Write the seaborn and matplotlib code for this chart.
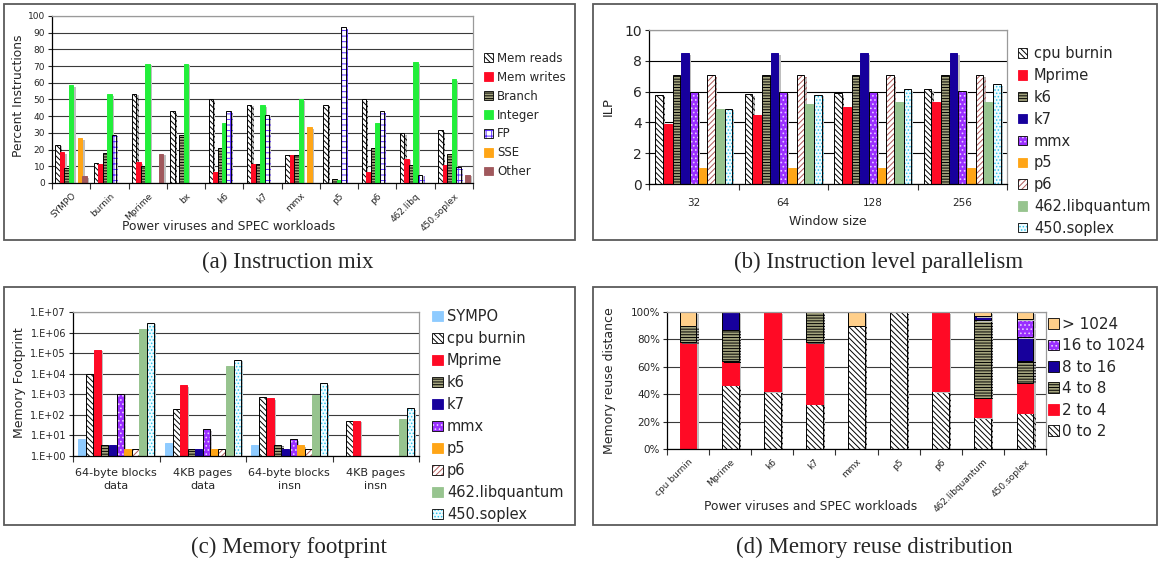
import numpy as np
import pandas as pd
import matplotlib
matplotlib.use("Agg")
import matplotlib.pyplot as plt
import seaborn as sns
from matplotlib.patches import Patch, Rectangle
from matplotlib import patheffects as pe
from matplotlib.colors import to_rgba

# ---------------- data: (a) instruction mix ----------------
mix_workloads = ["SYMPO", "burnin", "Mprime", "bx", "k6", "k7", "mmx", "p5", "p6",
                 "462.libq", "450.soplex"]
mix_types = ["Mem reads", "Mem writes", "Branch", "Integer", "FP", "SSE", "Other"]
mix_mem_reads = [23, 12, 53.5, 43, 50, 47, 17, 47, 50, 30, 31.5]
mix_mem_writes = [18.5, 11.5, 12.5, 0, 6.5, 11.5, 17, 0, 6.5, 14.5, 11]
mix_branch = [9, 18, 10, 28.5, 21, 11.5, 17, 2.2, 21, 11, 17.5]
mix_integer = [58.5, 53, 71.5, 71.5, 36, 46.5, 50, 1.5, 36, 72.5, 62]
mix_fp = [0, 29, 0, 0, 43, 41, 0, 93.5, 43, 5, 9.5]
mix_sse = [27, 0, 0, 0, 0, 0, 33.5, 0, 0, 0, 0]
mix_other = [4, 0, 17.5, 0, 0, 0, 0, 0, 0, 0, 5]

# ---------------- data: (b) ILP ----------------
ilp_windows = ["32", "64", "128", "256"]
ilp_workloads = ["cpu burnin", "Mprime", "k6", "k7", "mmx", "p5", "p6",
                 "462.libquantum", "450.soplex"]
ilp_cpu_burnin = [5.8, 5.85, 5.9, 6.15]
ilp_mprime = [3.9, 4.45, 5.0, 5.3]
ilp_k6 = [7.05, 7.05, 7.05, 7.05]
ilp_k7 = [8.5, 8.5, 8.5, 8.5]
ilp_mmx = [5.95, 5.95, 5.95, 6.05]
ilp_p5 = [1.05, 1.05, 1.05, 1.05]
ilp_p6 = [7.05, 7.05, 7.05, 7.05]
ilp_libquantum = [4.9, 5.2, 5.35, 5.35]
ilp_soplex = [4.9, 5.8, 6.15, 6.5]

# ---------------- data: (c) memory footprint ----------------
fp_groups = ["64-byte blocks\ndata", "4KB pages\ndata", "64-byte blocks\ninsn", "4KB pages\ninsn"]
fp_workloads = ["SYMPO", "cpu burnin", "Mprime", "k6", "k7", "mmx", "p5", "p6",
                "462.libquantum", "450.soplex"]
fp_sympo = [6.5, 4.1, 3.4, np.nan]
fp_cpu_burnin = [1.0e4, 195, 710, 53]
fp_mprime = [1.5e5, 2800, 650, 53]
fp_k6 = [3.5, 2.3, 3.5, np.nan]
fp_k7 = [3.3, 2.2, 2.2, np.nan]
fp_mmx = [1070, 20, 6.6, np.nan]
fp_p5 = [2.3, 2.3, 3.3, np.nan]
fp_p6 = [2.3, 2.3, 2.3, np.nan]
fp_libquantum = [1.55e6, 2.4e4, 900, 62]
fp_soplex = [3.0e6, 4.8e4, 3400, 210]

# ---------------- data: (d) memory reuse distance ----------------
reuse_workloads = ["cpu burnin", "Mprime", "k6", "k7", "mmx", "p5", "p6",
                   "462.libquantum", "450.soplex"]
reuse_ranges = ["> 1024", "16 to 1024", "8 to 16", "4 to 8", "2 to 4", "0 to 2"]
reuse_0_2 = [0, 47, 42, 33, 90, 100, 42, 23, 26.5]
reuse_2_4 = [78, 17, 58, 45, 0, 0, 58, 14.5, 22]
reuse_4_8 = [12, 23, 0, 22, 0, 0, 0, 56.5, 16]
reuse_8_16 = [0, 13, 0, 0, 0, 0, 0, 3, 17]
reuse_16_1024 = [0, 0, 0, 0, 0, 0, 0, 0, 13.5]
reuse_gt_1024 = [10, 0, 0, 0, 10, 0, 0, 3, 5]

# ---------------- styles ----------------
S_HATCH_BW = dict(fc="white", ec="black", hatch="\\\\\\\\\\\\", hc="black")
S_RED = dict(fc="#FF0A25", ec="none", hatch=None, hc=None)
S_OLIVE = dict(fc="#A4A47E", ec="black", hatch="------", hc="black")
S_GREEN = dict(fc="#22EE3A", ec="none", hatch=None, hc=None)
S_FP = dict(fc="white", ec="black", hatch="+++", hc="#5A2DFF")
S_ORANGE = dict(fc="#FFA516", ec="none", hatch=None, hc=None)
S_BROWN = dict(fc="#A0585C", ec="none", hatch=None, hc=None)
S_NAVY = dict(fc="#17009C", ec="none", hatch=None, hc=None)
S_MMX = dict(fc="#9A2EFF", ec="black", hatch="....", hc="#E6CCFF")
S_P6 = dict(fc="white", ec="black", hatch="//////", hc="#B05A5A")
S_LQ = dict(fc="#97C48F", ec="none", hatch=None, hc=None)
S_SOP = dict(fc="#F0FCFF", ec="black", hatch=".....", hc="#2EC4EE")
S_SYMPO = dict(fc="#8ECBFF", ec="none", hatch=None, hc=None)
S_GT = dict(fc="#FFCF8A", ec="black", hatch=None, hc=None)

mix_styles = [S_HATCH_BW, S_RED, S_OLIVE, S_GREEN, S_FP, S_ORANGE, S_BROWN]
work_styles = {"SYMPO": S_SYMPO, "cpu burnin": S_HATCH_BW, "Mprime": S_RED, "k6": S_OLIVE,
               "k7": S_NAVY, "mmx": S_MMX, "p5": S_ORANGE, "p6": S_P6,
               "462.libquantum": S_LQ, "450.soplex": S_SOP}
reuse_styles = {"> 1024": S_GT, "16 to 1024": dict(S_MMX), "8 to 16": dict(S_NAVY, ec="black"),
                "4 to 8": S_OLIVE, "2 to 4": S_RED, "0 to 2": S_HATCH_BW}

sns.set_style("ticks")
plt.rcParams["font.family"] = ["DejaVu Sans"]
plt.rcParams["hatch.linewidth"] = 0.7

W, H = 1161, 563
fig = plt.figure(figsize=(W / 100, H / 100), dpi=100)

SHADOW = [pe.SimplePatchShadow(offset=(1.6, -1.2), shadow_rgbFace="#BEBEBE", alpha=1.0), pe.Normal()]


def fax(l, t, r, b):
    return fig.add_axes([l / W, 1 - b / H, (r - l) / W, (b - t) / H])


def style_patch(p, st, shadow=True):
    p.set_facecolor(st["fc"])
    ec = st["ec"] if st["ec"] != "none" else st["fc"]
    p.set_edgecolor(ec)
    p.set_linewidth(0.7)
    if st["hatch"]:
        p.set_hatch(st["hatch"])
        p._hatch_color = to_rgba(st["hc"])
    if shadow and np.isfinite(p.get_height()) and p.get_height() > 0:
        p.set_path_effects(SHADOW)


def add_legend(ax, names, styles, x_px, yc_px, fs, spacing, handle_px, gap_px):
    handles = []
    for st in styles:
        ec = st["ec"] if st["ec"] != "none" else st["fc"]
        handles.append(Patch(facecolor=st["fc"], edgecolor=ec, hatch=st["hatch"], lw=0.6))
    fs_px = fs * 100 / 72
    leg = ax.legend(handles, names, loc="center left", bbox_to_anchor=(x_px / W, 1 - yc_px / H),
                    bbox_transform=fig.transFigure, frameon=False, fontsize=fs,
                    handlelength=handle_px / fs_px, handleheight=handle_px / fs_px,
                    handletextpad=gap_px / fs_px,
                    labelspacing=spacing, borderpad=0, borderaxespad=0)
    for h, st in zip(leg.legend_handles, styles):
        if st["hatch"]:
            h._hatch_color = to_rgba(st["hc"])
    return leg


def cat_axis(ax, n, tick_fs, ytick_fs, grid_color="#3A3A3A"):
    ax.set_xlim(-0.5, n - 0.5)
    ax.set_xticks(np.arange(n + 1) - 0.5, minor=True)
    ax.tick_params(axis="x", which="major", length=0, labelsize=tick_fs)
    ax.tick_params(axis="x", which="minor", length=4, width=0.8, direction="out", color="#333333")
    ax.tick_params(axis="y", which="major", length=3, width=0.8, direction="out", labelsize=ytick_fs, pad=2)
    ax.yaxis.grid(True, color=grid_color, lw=0.8)
    ax.set_axisbelow(True)
    for s in ["left", "bottom"]:
        ax.spines[s].set_color("black")
        ax.spines[s].set_linewidth(0.9)
    for s in ["top", "right"]:
        ax.spines[s].set_visible(True)
        ax.spines[s].set_color("#9A9A9A")
        ax.spines[s].set_linewidth(0.9)


# ---------------- panel frames and captions ----------------
for (l, t, r, b) in [(4, 4, 575, 240), (593, 4, 1157, 240), (4, 287, 575, 525), (593, 287, 1157, 525)]:
    fig.add_artist(Rectangle((l / W, 1 - b / H), (r - l) / W, (b - t) / H, transform=fig.transFigure,
                             fill=False, ec="#5A5A5A", lw=1.3))
for (x, y, s) in [(288, 262, "(a) Instruction mix"), (879, 262, "(b) Instruction level parallelism"),
                  (289, 547, "(c) Memory footprint"), (874, 547, "(d) Memory reuse distribution")]:
    fig.text(x / W, 1 - y / H, s, ha="center", va="center", family="Liberation Serif", size=16.5)

# ---------------- (a) ----------------
mix_df = pd.DataFrame(dict(zip(mix_types, [mix_mem_reads, mix_mem_writes, mix_branch, mix_integer,
                                           mix_fp, mix_sse, mix_other])))
mix_df["workload"] = mix_workloads
mix_long = mix_df.melt(id_vars="workload", var_name="type", value_name="pct")
axA = fax(52, 16, 473, 183)
sns.barplot(data=mix_long, x="workload", y="pct", hue="type", order=mix_workloads, hue_order=mix_types,
            palette=[st["fc"] for st in mix_styles], saturation=1, width=0.82, gap=0,
            errorbar=None, legend=False, ax=axA)
for cont, st in zip(axA.containers, mix_styles):
    for p in cont.patches:
        style_patch(p, st)
cat_axis(axA, len(mix_workloads), 6.5, 6.5)
axA.set_ylim(0, 100)
axA.set_yticks(np.arange(0, 101, 10))
plt.setp(axA.get_xticklabels(), rotation=45, ha="right", rotation_mode="anchor")
axA.tick_params(axis="x", which="major", pad=6)
axA.set_xlabel("Power viruses and SPEC workloads", fontsize=8.8)
axA.set_ylabel("Percent Instructions", fontsize=8.8)
axA.xaxis.set_label_coords(0.42, -0.22)
axA.yaxis.set_label_coords(-0.065, 0.52)
add_legend(axA, mix_types, mix_styles, 484, 115, 8.5, 0.5, 9, 4)

# ---------------- (b) ----------------
ilp_df = pd.DataFrame(dict(zip(ilp_workloads, [ilp_cpu_burnin, ilp_mprime, ilp_k6, ilp_k7, ilp_mmx,
                                               ilp_p5, ilp_p6, ilp_libquantum, ilp_soplex])))
ilp_df["window"] = ilp_windows
ilp_long = ilp_df.melt(id_vars="window", var_name="workload", value_name="ilp")
ilp_styles = [work_styles[w] for w in ilp_workloads]
axB = fax(649, 30, 1007, 184)
sns.barplot(data=ilp_long, x="window", y="ilp", hue="workload", order=ilp_windows, hue_order=ilp_workloads,
            palette=[st["fc"] for st in ilp_styles], saturation=1, width=0.87, gap=0.12,
            errorbar=None, legend=False, ax=axB)
for cont, st in zip(axB.containers, ilp_styles):
    for p in cont.patches:
        style_patch(p, st)
cat_axis(axB, len(ilp_windows), 7.5, 10, grid_color="black")
axB.set_ylim(0, 10)
axB.set_yticks(np.arange(0, 11, 2))
axB.tick_params(axis="x", which="major", pad=10)
axB.set_xlabel("Window size", fontsize=9)
axB.set_ylabel("ILP", fontsize=9.5)
axB.xaxis.set_label_coords(0.5, -0.2)
axB.yaxis.set_label_coords(-0.095, 0.5)
add_legend(axB, ilp_workloads, ilp_styles, 1018, 141, 10.5, 0.47, 9, 7)

# ---------------- (c) ----------------
fp_df = pd.DataFrame(dict(zip(fp_workloads, [fp_sympo, fp_cpu_burnin, fp_mprime, fp_k6, fp_k7, fp_mmx,
                                             fp_p5, fp_p6, fp_libquantum, fp_soplex])))
fp_df["group"] = fp_groups
fp_long = fp_df.melt(id_vars="group", var_name="workload", value_name="blocks")
fp_styles = [work_styles[w] for w in fp_workloads]
axC = fax(73, 312, 419, 456)
sns.barplot(data=fp_long, x="group", y="blocks", hue="workload", order=fp_groups, hue_order=fp_workloads,
            palette=[st["fc"] for st in fp_styles], saturation=1, width=0.88, gap=0.08,
            errorbar=None, legend=False, ax=axC)
for cont, st in zip(axC.containers, fp_styles):
    for p in cont.patches:
        style_patch(p, st)
axC.set_yscale("log")
cat_axis(axC, len(fp_groups), 8, 7)
axC.set_ylim(1, 1e7)
exps = np.arange(0, 8)
axC.set_yticks(10.0 ** exps, [f"1.E+{e:02d}" for e in exps])
axC.yaxis.set_minor_locator(matplotlib.ticker.NullLocator())
axC.tick_params(axis="x", which="major", pad=9)
plt.setp(axC.get_xticklabels(), linespacing=1.35)
axC.set_xlabel("")
axC.set_ylabel("Memory Footprint", fontsize=9)
axC.yaxis.set_label_coords(-0.135, 0.51)
add_legend(axC, fp_workloads, fp_styles, 432, 415.5, 10.5, 0.48, 11, 4)

# ---------------- (d) ----------------
reuse_df = pd.DataFrame(dict(zip(reuse_ranges, [reuse_gt_1024, reuse_16_1024, reuse_8_16, reuse_4_8,
                                               reuse_2_4, reuse_0_2])))
reuse_df["workload"] = reuse_workloads
reuse_long = reuse_df.melt(id_vars="workload", var_name="range", value_name="pct")
reuse_long["workload"] = pd.Categorical(reuse_long["workload"], categories=reuse_workloads, ordered=True)
reuse_style_list = [reuse_styles[r] for r in reuse_ranges]
reuse_palette = {r: reuse_styles[r]["fc"] for r in reuse_ranges}
axD = fax(667, 312, 1046, 449)
sns.histplot(data=reuse_long, x="workload", hue="range", weights="pct", hue_order=reuse_ranges,
             multiple="stack", discrete=True, shrink=0.4, palette=reuse_palette, alpha=1,
             legend=False, ax=axD)
pal_rgb = {r: np.array(to_rgba(c)[:3]) for r, c in reuse_palette.items()}
for cont in axD.containers:
    if not len(cont.patches):
        continue
    fc = np.array(cont.patches[0].get_facecolor()[:3])
    rng = min(pal_rgb, key=lambda r: np.abs(pal_rgb[r] - fc).sum())
    for p in cont.patches:
        style_patch(p, reuse_styles[rng])
cat_axis(axD, len(reuse_workloads), 6.5, 7.5)
axD.set_ylim(0, 100)
axD.set_yticks(np.arange(0, 101, 20), [f"{v}%" for v in range(0, 101, 20)])
plt.setp(axD.get_xticklabels(), rotation=45, ha="right", rotation_mode="anchor")
axD.tick_params(axis="x", which="major", pad=6)
axD.set_xlabel("Power viruses and SPEC workloads", fontsize=8.8)
axD.set_ylabel("Memory reuse distance", fontsize=9)
axD.xaxis.set_label_coords(0.38, -0.37)
axD.yaxis.set_label_coords(-0.135, 0.5)
add_legend(axD, reuse_ranges, reuse_style_list, 1048, 378, 11, 0.42, 11, 3)

fig.savefig("out.png", dpi=100)
